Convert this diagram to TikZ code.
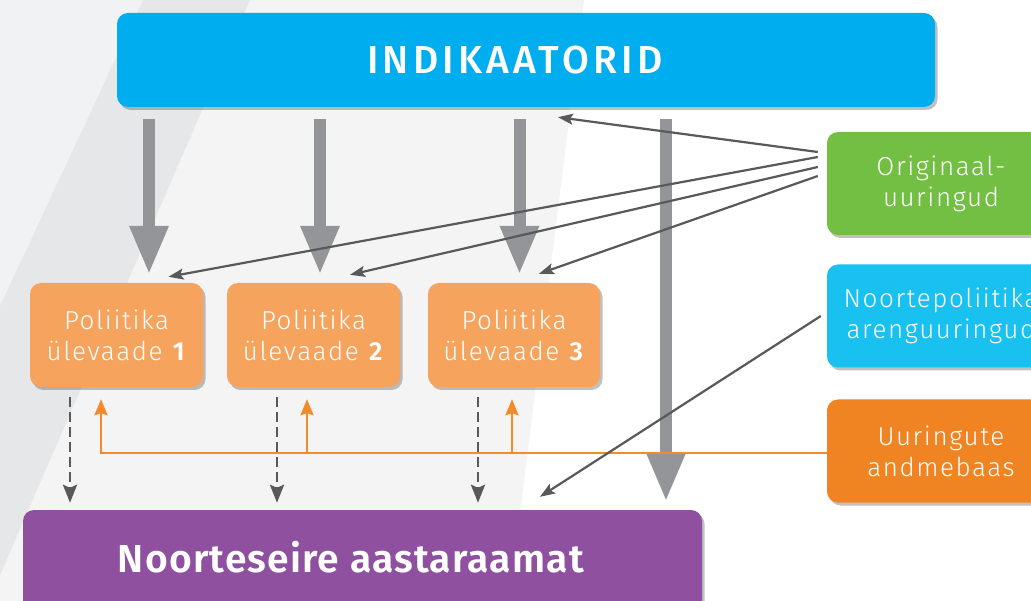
\documentclass[tikz,border=0pt]{standalone}
\usepackage{fontspec}
\setmainfont{Fira Sans}
\newfontfamily\regfont{Fira Sans Medium}[LetterSpace=11]
\newfontfamily\lightfont{Fira Sans Light}[BoldFont={Fira Sans SemiBold}, LetterSpace=6]
\newfontfamily\semifont{Fira Sans SemiBold}[LetterSpace=3]
\usetikzlibrary{arrows.meta,calc,shadows}
\definecolor{bgleft}{HTML}{F1F2F3}
\definecolor{bgmid}{HTML}{F4F4F5}
\definecolor{bgband}{HTML}{E6E7E9}
\definecolor{indblue}{HTML}{00AEEF}
\definecolor{polor}{HTML}{F6A45D}
\definecolor{annpurple}{HTML}{8F509F}
\definecolor{origgreen}{HTML}{72BF44}
\definecolor{norcyan}{HTML}{19C1F1}
\definecolor{uurorange}{HTML}{F18422}
\definecolor{arrgrey}{HTML}{939598}
\definecolor{dkgrey}{HTML}{58595B}
\definecolor{orline}{HTML}{F58A2A}
\tikzset{
  box/.style={rounded corners=11pt, inner sep=0pt, text=white, align=center,
    drop shadow={shadow xshift=2.5pt, shadow yshift=-3pt, opacity=0.35, fill=black!70}},
  polbox/.style={box, fill=polor, minimum width=173pt, minimum height=104pt,
    font=\lightfont\fontsize{26}{31}\selectfont},
  sidebox/.style={box, minimum width=228pt, minimum height=103pt,
    font=\lightfont\fontsize{26}{31}\selectfont},
  bigarr/.style={draw=arrgrey, line width=12pt, -{Triangle[length=49pt,width=36pt]}},
  thinarr/.style={draw=dkgrey, line width=2.2pt, -{Stealth[length=15pt,width=11pt,inset=3pt]}},
  dasharr/.style={draw=dkgrey, line width=2.7pt, dash pattern=on 10pt off 5pt,
    -{Stealth[length=18pt,width=14pt,inset=3pt]}},
  orarr/.style={draw=orline, line width=2.5pt, -{Stealth[length=16pt,width=13pt,inset=2pt]}},
}
\begin{document}
\begin{tikzpicture}[x=1pt,y=-1pt]
\useasboundingbox (0,0) rectangle (1031,601);
% background
\fill[white] (0,0) rectangle (1031,601);
\fill[bgmid] (0,0) -- (584,0) -- (509,601) -- (0,601) -- cycle;
\fill[bgleft] (0,0) -- (143,0) -- (0,306) -- cycle;
\fill[bgband] (143,0) -- (250,0) -- (0,575) -- (0,306) -- cycle;

% nodes
\node[box, fill=indblue, minimum width=818pt, minimum height=94pt,
  font=\regfont\fontsize{39}{44}\selectfont] (ind) at (526,60) {INDIKAATORID\hspace*{22pt}};
\node[polbox] (p1) at (116.5,335) {Poliitika\\ülevaade \textbf{1}};
\node[polbox] (p2) at (313.5,335) {Poliitika\\ülevaade \textbf{2}};
\node[polbox, minimum width=172pt] (p3) at (514,335) {Poliitika\\ülevaade \textbf{3}};
\node[box, fill=annpurple, minimum width=679pt, minimum height=130pt] (ann) at (362.5,575) {};
\node[text=white, inner sep=0pt, font=\semifont\fontsize{39}{44}\selectfont] (anntext) at (351,557) {Noorteseire aastaraamat};
\node[sidebox, fill=origgreen] (orig) at (941,183.5) {Originaal-\\uuringud};
\node[sidebox, fill=norcyan] (nor) at (941,316) {Noortepoliitika\\arenguuringud};
\node[sidebox, fill=uurorange] (uur) at (941,451) {Uuringute\\andmebaas};

% thick grey arrows
\draw[bigarr] ($(p1.north |- ind.south)+(32.5,12)$) -- ($(p1.north)+(32.5,-8)$);
\draw[bigarr] ($(p2.north |- ind.south)+(6.5,12)$) -- ($(p2.north)+(6.5,-8)$);
\draw[bigarr] ($(p3.north |- ind.south)+(5.5,12)$) -- ($(p3.north)+(5.5,-8)$);
\draw[bigarr] ($(ind.south)+(140,12)$) -- ($(ind.south |- ann.north)+(140,-8)$);

% orange lines
\draw[orarr] ($(uur.west)+(0,2)$) -| ($(p1.south)+(-15.5,12)$);
\draw[orarr] ($(p2.south)+(-6.5,66)$) -- ($(p2.south)+(-6.5,12)$);
\draw[orarr] ($(p3.south)+(-2,66)$) -- ($(p3.south)+(-2,12)$);

% dashed arrows
\draw[dasharr] ($(p1.south)+(-46.5,10)$) -- ($(p1.south |- ann.north)+(-46.5,-7)$);
\draw[dasharr] ($(p2.south)+(-36.5,10)$) -- ($(p2.south |- ann.north)+(-36.5,-7)$);
\draw[dasharr] ($(p3.south)+(-36,10)$) -- ($(p3.south |- ann.north)+(-36,-7)$);

% thin arrows from Originaal-uuringud
\draw[thinarr] ($(orig.west)+(-9,-31.5)$) -- ($(ind.south)+(32,10)$);
\draw[thinarr] ($(orig.west)+(-9,-26.5)$) -- ($(p1.north)+(52,-6)$);
\draw[thinarr] ($(orig.west)+(-9,-16.5)$) -- ($(p2.north)+(36.5,-8)$);
\draw[thinarr] ($(orig.west)+(-9,-7.5)$) -- ($(p3.north)+(25,-9)$);
% from Noortepoliitika arenguuringud
\draw[thinarr] ($(nor.west)+(-6,0)$) -- ($(ann.north)+(177.5,-13)$);
\end{tikzpicture}
\end{document}
